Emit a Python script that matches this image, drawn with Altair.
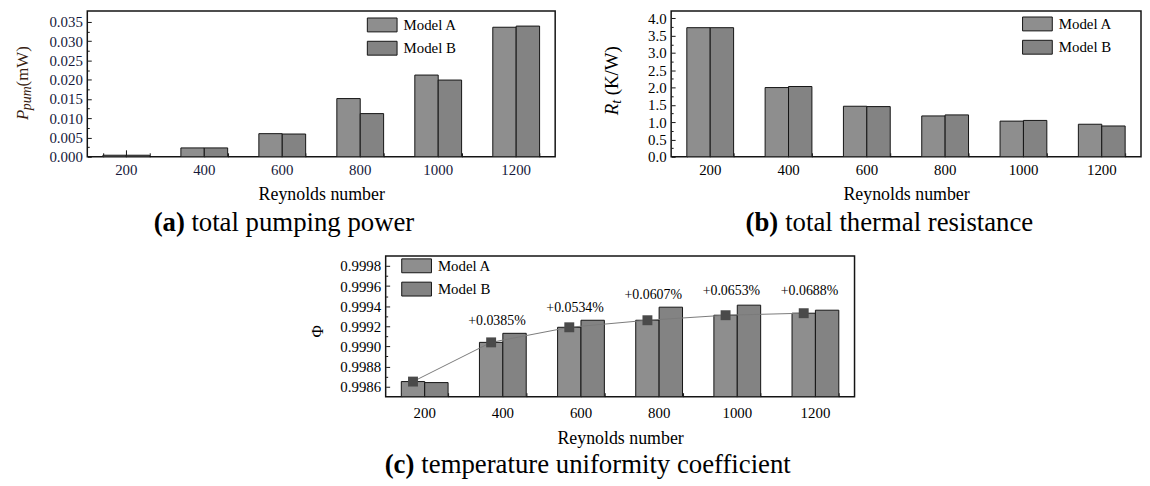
import altair as alt
import pandas as pd

SERIF = "Liberation Serif"

re_labels = ["200", "400", "600", "800", "1000", "1200"]
models = ["Model A", "Model B"]

pump_a = [0.0004, 0.0023, 0.0060, 0.0151, 0.0212, 0.0336]
pump_b = [0.0004, 0.0023, 0.0059, 0.0112, 0.0199, 0.0339]
rt_a = [3.73, 2.00, 1.46, 1.18, 1.03, 0.94]
rt_b = [3.73, 2.03, 1.45, 1.21, 1.05, 0.89]
phi_a = [0.99865, 0.99904, 0.99919, 0.99926, 0.99931, 0.99933]
phi_b = [0.99864, 0.99913, 0.99926, 0.99939, 0.99941, 0.99936]

gain_re = ["400", "600", "800", "1000", "1200"]
gain_text = ["+0.0385%", "+0.0534%", "+0.0607%", "+0.0653%", "+0.0688%"]
gain_y = [0.99925, 0.99938, 0.99951, 0.99955, 0.99955]

pump_ticks = [0.0, 0.005, 0.010, 0.015, 0.020, 0.025, 0.030, 0.035]
pump_minor = [0.0025, 0.0075, 0.0125, 0.0175, 0.0225, 0.0275, 0.0325]
rt_ticks = [0.0, 0.5, 1.0, 1.5, 2.0, 2.5, 3.0, 3.5, 4.0]
rt_minor = [0.25, 0.75, 1.25, 1.75, 2.25, 2.75, 3.25, 3.75]
phi_ticks = [0.9986, 0.9988, 0.9990, 0.9992, 0.9994, 0.9996, 0.9998]
phi_minor = [0.9987, 0.9989, 0.9991, 0.9993, 0.9995, 0.9997]

FILL_A = "#8e8e8e"
FILL_B = "#838383"
INK = "#141414"


def text_layer(text, x, y, size, angle=0, style="normal", weight="normal",
               align="left", baseline="alphabetic", color="#000"):
    return alt.Chart(pd.DataFrame({"t": [text]})).mark_text(
        font=SERIF, fontSize=size, fontStyle=style, fontWeight=weight,
        angle=angle, align=align, baseline=baseline, color=color,
    ).encode(text="t:N", x=alt.value(x), y=alt.value(y))


def panel(vals_a, vals_b, ydomain, yticks, yminor, yfmt,
          legend_x, legend_y, label_color="#000", label_pad=6, title_pad=8):
    df = pd.DataFrame({
        "Re": re_labels * 2,
        "Model": ["Model A"] * 6 + ["Model B"] * 6,
        "value": vals_a + vals_b,
    })
    xscale = alt.Scale(domain=re_labels, paddingInner=0.4, paddingOuter=0.2)
    yscale = alt.Scale(domain=ydomain, nice=False, zero=False)
    bars = alt.Chart(df).mark_bar(stroke=INK, strokeWidth=1, clip=True).encode(
        x=alt.X("Re:N", sort=re_labels, scale=xscale,
                axis=alt.Axis(title="Reynolds number", ticks=False, domain=False,
                              labelAngle=0, labelPadding=label_pad, titlePadding=title_pad,
                              orient="bottom", labelColor=label_color)),
        xOffset=alt.XOffset("Model:N", sort=models,
                            scale=alt.Scale(domain=models, paddingInner=0, paddingOuter=0)),
        y=alt.Y("value:Q", scale=yscale,
                axis=alt.Axis(title=None, values=yticks, format=yfmt, ticks=False,
                              domain=False, grid=False, labelPadding=5, orient="left",
                              labelColor=label_color)),
        y2=alt.datum(ydomain[0]),
        fill=alt.Fill("Model:N", sort=models,
                      scale=alt.Scale(domain=models, range=[FILL_A, FILL_B]),
                      legend=alt.Legend(
                          title=None, orient="none", legendX=legend_x, legendY=legend_y,
                          symbolType="M-2.143,-1H2.143V1H-2.143Z", symbolSize=196,
                          symbolStrokeColor=INK, symbolStrokeWidth=1, symbolOpacity=1,
                          labelFont=SERIF, labelFontSize=15, labelColor="#000",
                          labelOffset=14, rowPadding=4.5, padding=0)),
    )
    major = alt.Chart(df).mark_point(opacity=0).encode(
        x=alt.X("Re:N", sort=re_labels,
                axis=alt.Axis(labels=False, domain=False, title=None, tickSize=7,
                              offset=-7, tickColor=INK, tickWidth=1, orient="bottom")),
        y=alt.Y("value:Q",
                axis=alt.Axis(labels=False, domain=False, title=None, grid=False,
                              values=yticks, tickSize=4, offset=-4, tickColor=INK,
                              tickWidth=1, orient="left")),
    )
    minor = alt.Chart(df).mark_point(opacity=0).encode(
        x=alt.X("Re:N", sort=re_labels,
                axis=alt.Axis(labels=False, domain=False, title=None, tickSize=4,
                              offset=-4, tickBand="extent", tickColor=INK, tickWidth=1,
                              orient="bottom")),
        y=alt.Y("value:Q",
                axis=alt.Axis(labels=False, domain=False, title=None, grid=False,
                              values=yminor, tickSize=2, offset=-2, tickColor=INK,
                              tickWidth=1, orient="left")),
    )
    return [bars, major, minor]


# ---------- (a) total pumping power ----------
layers_a = panel(pump_a, pump_b, [0.0, 0.0378], pump_ticks, pump_minor, ".3f",
                 290, 6.5, label_color="#15183a")
texts_a = [
    text_layer("P", -60, 110, 17, angle=270, style="italic", color="#3a1f14"),
    text_layer("pum", -57, 100, 14, angle=270, style="italic", color="#3a1f14"),
    text_layer("(mW)", -60, 76, 17, angle=270, color="#3a1f14"),
    text_layer("(a)", 67, 222, 27, weight="bold"),
    text_layer("total pumping power", 105, 222, 27),
]
chart_a = alt.layer(*layers_a, *texts_a).resolve_axis(
    x="independent", y="independent").properties(width=472, height=147)

# ---------- (b) total thermal resistance ----------
layers_b = panel(rt_a, rt_b, [0.0, 4.21], rt_ticks, rt_minor, ".1f", 362, 5.5)
texts_b = [
    text_layer("R", -54, 105, 19, angle=270, style="italic"),
    text_layer("t", -51, 93.4, 14, angle=270, style="italic"),
    text_layer("(K/W)", -54, 85, 19, angle=270),
    text_layer("(b)", 75, 222, 27, weight="bold"),
    text_layer("total thermal resistance", 115, 222, 27),
]
chart_b = alt.layer(*layers_b, *texts_b).resolve_axis(
    x="independent", y="independent").properties(width=474, height=147)

# ---------- (c) temperature uniformity coefficient ----------
layers_c = panel(phi_a, phi_b, [0.9985, 0.9999], phi_ticks, phi_minor, ".4f",
                 23.7, 2.5, label_pad=9, title_pad=9)
trend_df = pd.DataFrame({"Re": re_labels, "Model": ["Model A"] * 6, "value": phi_a})
trend_line = alt.Chart(trend_df).mark_line(color="#7a7a7a", strokeWidth=1).encode(
    x=alt.X("Re:N", sort=re_labels, axis=None),
    xOffset=alt.XOffset("Model:N", sort=models),
    y=alt.Y("value:Q", axis=None),
)
trend_pts = alt.Chart(trend_df).mark_square(size=100, color="#4a4a4a", opacity=1).encode(
    x=alt.X("Re:N", sort=re_labels, axis=None),
    xOffset=alt.XOffset("Model:N", sort=models),
    y=alt.Y("value:Q", axis=None),
)
gain_df = pd.DataFrame({"Re": gain_re, "label": gain_text, "value": gain_y})
gain_txt = alt.Chart(gain_df).mark_text(font=SERIF, fontSize=14, color="#000", dx=-6,
                                        baseline="middle").encode(
    x=alt.X("Re:N", sort=re_labels, axis=None),
    y=alt.Y("value:Q", axis=None),
    text="label:N",
)
texts_c = [
    text_layer("Φ", -68, 76, 17, angle=270, align="center", baseline="middle"),
    text_layer("(c)", -1, 219, 27, weight="bold"),
    text_layer("temperature uniformity coefficient", 36, 219, 27),
]
chart_c = alt.layer(*layers_c, trend_line, trend_pts, gain_txt, *texts_c).resolve_axis(
    x="independent", y="independent").properties(width=473, height=142)

spacer = alt.Chart(pd.DataFrame({"t": [""]})).mark_text().encode(
    text="t:N", x=alt.value(20), y=alt.value(70)
).properties(width=301, height=142, view=alt.ViewBackground(stroke="transparent"))

top_row = alt.hconcat(chart_a, chart_b, spacing=117, bounds="flush").resolve_scale(
    fill="independent").resolve_legend(fill="independent")
bottom_row = alt.hconcat(spacer, chart_c, spacing=0, bounds="flush").resolve_scale(
    fill="independent").resolve_legend(fill="independent")

chart = alt.vconcat(top_row, bottom_row, spacing=18, bounds="full").resolve_scale(
    fill="independent").resolve_legend(fill="independent").properties(
    padding={"left": 5, "top": 0, "right": 0, "bottom": 0}, background="white"
).configure_view(
    stroke=INK, strokeWidth=1.5
).configure_axis(
    labelFont=SERIF, labelFontSize=15, titleFont=SERIF, titleFontSize=18,
    titleFontWeight="normal", labelColor="#000", titleColor="#000",
)

chart.save("out.html", embed_options={"renderer": "svg", "actions": False})
